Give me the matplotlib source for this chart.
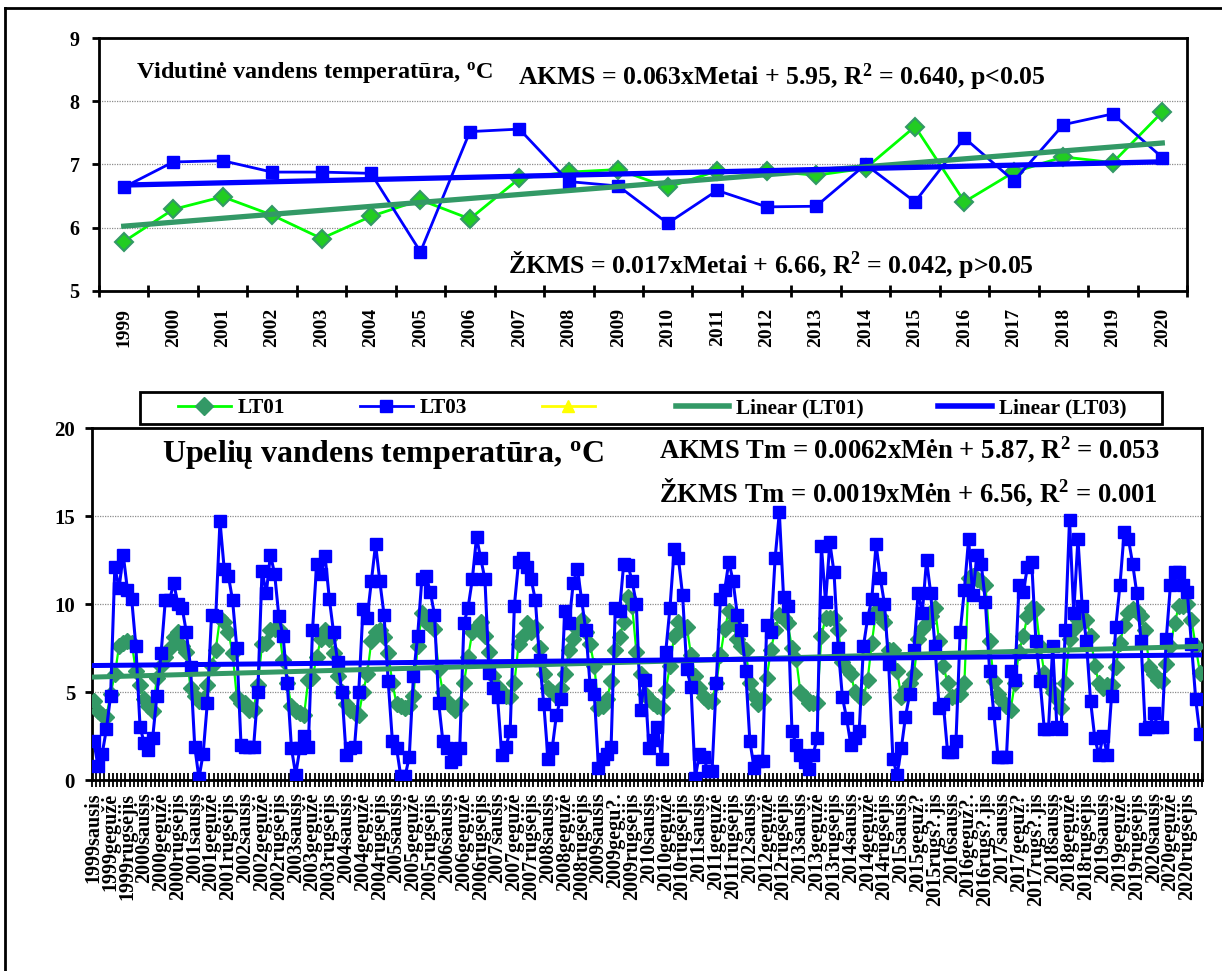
import numpy as np
import matplotlib
matplotlib.use('Agg')
import matplotlib.pyplot as plt
from matplotlib.lines import Line2D
from matplotlib.patches import Rectangle

plt.rcParams['font.family'] = ['Liberation Serif', 'DejaVu Serif']
plt.rcParams['font.weight'] = 'bold'
plt.rcParams['mathtext.fontset'] = 'custom'
plt.rcParams['mathtext.rm'] = 'Liberation Serif:bold'
plt.rcParams['mathtext.bf'] = 'Liberation Serif:bold'
plt.rcParams['mathtext.it'] = 'Liberation Serif:bold:italic'

# annual means
years = list(range(1999, 2021))
lt01_year = [5.78, 6.29, 6.49, 6.20, 5.83, 6.18, 6.44, 6.14, 6.78, 6.88, 6.92,
             6.64, 6.90, 6.90, 6.83, 6.94, 7.60, 6.41, 6.88, 7.12, 7.03, 7.83]
lt03_year = [6.64, 7.04, 7.06, 6.88, 6.88, 6.86, 5.62, 7.52, 7.56, 6.73, 6.66,
             6.07, 6.59, 6.33, 6.34, 7.00, 6.41, 7.42, 6.74, 7.63, 7.80, 7.11]

# monthly values, one row per year (Jan..Dec)
lt01_month = [
    4.5, 3.9, 3.7, 3.6, 4.9, 6.0, 7.6, 7.8, 7.9, 7.8, 6.2, 5.4,
    4.6, 4.2, 3.9, 5.8, 6.5, 7.0, 7.5, 8.1, 8.4, 7.6, 7.3, 5.2,
    4.8, 4.5, 4.6, 5.4, 6.5, 7.4, 9.2, 9.0, 8.4, 7.2, 4.7, 4.4,
    4.4, 4.0, 4.0, 5.4, 7.7, 7.8, 8.5, 8.6, 8.6, 6.8, 5.5, 4.2,
    3.9, 3.8, 3.7, 5.7, 5.8, 7.0, 8.0, 8.5, 8.0, 7.2, 5.9, 5.0,
    4.3, 4.0, 3.8, 3.7, 5.0, 6.0, 7.9, 8.4, 8.5, 8.1, 7.2, 5.5,
    4.3, 4.2, 4.1, 4.2, 4.8, 7.6, 9.5, 9.0, 8.8, 8.6, 6.3, 5.0,
    4.5, 4.2, 4.0, 4.3, 5.5, 7.0, 8.4, 8.7, 9.0, 8.2, 7.3, 5.9,
    5.3, 5.0, 4.8, 4.7, 5.5, 7.7, 8.2, 8.9, 8.4, 8.7, 7.5, 6.0,
    5.2, 5.0, 4.8, 5.2, 6.0, 7.4, 8.0, 8.6, 9.1, 8.4, 7.7, 6.5,
    4.1, 4.2, 4.6, 5.6, 7.4, 8.1, 9.0, 10.4, 9.9, 7.3, 6.0, 4.9,
    4.6, 4.4, 4.2, 4.1, 5.1, 6.5, 8.2, 9.0, 8.6, 8.7, 7.1, 5.9,
    5.2, 4.7, 4.5, 4.5, 5.5, 7.1, 8.6, 9.6, 8.9, 8.0, 7.6, 7.4,
    5.5, 4.8, 4.3, 4.6, 5.8, 7.4, 8.5, 9.4, 9.2, 8.9, 7.5, 6.9,
    5.0, 4.7, 4.4, 4.4, 4.4, 8.2, 9.2, 9.2, 9.2, 8.5, 6.7, 6.3,
    6.0, 5.0, 4.8, 4.7, 5.7, 7.8, 9.6, 9.3, 9.0, 7.4, 7.4, 6.2,
    4.7, 5.1, 5.5, 6.0, 8.0, 8.6, 8.9, 9.3, 9.8, 7.9, 6.5, 5.5,
    4.7, 4.8, 4.9, 5.5, 11.5, 11.6, 11.4, 11.3, 11.1, 7.9, 5.6, 4.9,
    4.5, 4.2, 4.0, 5.5, 7.3, 8.2, 9.3, 9.8, 9.7, 7.6, 6.1, 5.5,
    5.0, 4.6, 4.1, 5.5, 8.0, 8.6, 9.1, 9.1, 9.1, 8.2, 6.5, 5.5,
    5.2, 5.4, 5.4, 6.4, 7.8, 8.8, 9.5, 9.7, 9.6, 9.3, 8.5, 6.4,
    6.0, 5.7, 5.6, 6.6, 7.6, 8.9, 9.9, 9.9, 10.0, 9.1, 7.6, 6.1,
]
lt03_month = [
    2.2, 0.8, 1.5, 2.9, 4.8, 12.1, 10.9, 12.8, 10.8, 10.3, 7.6, 3.0,
    2.1, 1.7, 2.4, 4.8, 7.2, 10.2, 10.2, 11.2, 10.0, 9.8, 8.4, 6.4,
    1.9, 0.1, 1.5, 4.4, 9.4, 9.3, 14.7, 12.0, 11.6, 10.2, 7.5, 2.0,
    1.9, 1.9, 1.9, 5.0, 11.9, 10.6, 12.8, 11.7, 9.3, 8.2, 5.5, 1.8,
    0.3, 1.8, 2.5, 1.9, 8.5, 12.3, 11.7, 12.7, 10.3, 8.4, 6.7, 5.0,
    1.4, 1.8, 1.9, 5.0, 9.7, 9.2, 11.3, 13.4, 11.3, 9.4, 5.6, 2.2,
    1.8, 0.2, 0.2, 1.3, 5.9, 8.2, 11.4, 11.6, 10.7, 9.4, 4.4, 2.2,
    1.8, 1.0, 1.2, 1.8, 8.9, 9.8, 11.4, 13.8, 12.6, 11.4, 6.1, 5.2,
    4.7, 1.4, 1.9, 2.8, 9.9, 12.4, 12.6, 12.1, 11.4, 10.2, 6.8, 4.3,
    1.2, 1.8, 3.7, 4.6, 9.6, 8.9, 11.2, 12.0, 10.2, 8.5, 5.4, 4.9,
    0.7, 1.2, 1.5, 1.9, 9.8, 9.6, 12.3, 12.2, 11.3, 10.0, 4.0, 5.7,
    1.8, 2.3, 3.0, 1.2, 7.3, 9.8, 13.1, 12.6, 10.5, 6.3, 5.3, 0.1,
    1.5, 1.3, 0.5, 0.5, 5.5, 10.3, 10.8, 12.4, 11.3, 9.4, 8.5, 6.2,
    2.2, 0.7, 1.1, 1.1, 8.8, 8.4, 12.6, 15.2, 10.4, 9.9, 2.8, 2.0,
    1.4, 1.0, 0.6, 1.4, 2.4, 13.3, 10.1, 13.5, 11.8, 7.5, 4.7, 3.5,
    2.0, 2.4, 2.8, 7.6, 9.2, 10.3, 13.4, 11.5, 10.0, 6.6, 1.2, 0.3,
    1.8, 3.6, 4.9, 7.4, 10.6, 9.5, 12.5, 10.6, 7.6, 4.1, 4.3, 1.6,
    1.6, 2.2, 8.4, 10.8, 13.7, 10.5, 12.8, 12.3, 10.1, 6.2, 3.8, 1.3,
    1.3, 1.3, 6.2, 5.7, 11.1, 10.7, 12.1, 12.4, 7.9, 5.6, 2.9, 2.9,
    7.6, 3.0, 2.9, 8.5, 14.8, 9.5, 13.7, 9.9, 7.9, 4.5, 2.4, 1.4,
    2.5, 1.4, 4.8, 8.7, 11.1, 14.1, 13.7, 12.3, 10.6, 7.9, 2.9, 3.0,
    3.8, 3.0, 3.0, 8.0, 11.1, 11.8, 11.8, 11.1, 10.7, 7.7, 4.6, 2.6,
]

month_names = ['sausis', 'gegužė', 'rugsėjis']
odd_labels = {
    '2009gegužė': '2009gegu?.',
    '2015gegužė': '2015geguž?', '2015rugsėjis': '2015rugs?.jis',
    '2016gegužė': '2016geguž?.', '2016rugsėjis': '2016rugs?.jis',
    '2017gegužė': '2017geguž?', '2017rugsėjis': '2017rugs?.jis',
}
month_labels = []
for yr in years:
    for m in month_names:
        month_labels.append(odd_labels.get(f'{yr}{m}', f'{yr}{m}'))

W, H = 1222, 971


def fx(x):
    return x / W


def fy(y):
    return 1 - y / H


fig = plt.figure(figsize=(W / 100, H / 100), dpi=100)

# outer frame (cut by the image edge on the right and bottom)
fig.add_artist(Line2D([fx(5), fx(5)], [fy(8), 0], color='k', lw=2))
fig.add_artist(Line2D([fx(5), 1], [fy(8), fy(8)], color='k', lw=2))

grid_kw = dict(color='#8c8c8c', linestyle=(0, (1, 1)), linewidth=0.9)

# ---------- top chart: annual means ----------
ax1 = fig.add_axes([fx(99), fy(291), fx(1187) - fx(99), fy(38) - fy(291)])
xa = np.arange(len(years))
ax1.plot(xa, lt01_year, color='#00FF00', lw=2, marker='D', ms=9,
         mfc='#22CC22', mec='#339966', mew=1.5, zorder=3)
ax1.plot(xa, lt03_year, color='#0000FF', lw=2, marker='s', ms=9,
         mfc='#0000FF', mec='#0000FF', zorder=4)
k, b = np.polyfit(xa + 1, lt01_year, 1)
ax1.plot(xa, k * (xa + 1) + b, color='#339966', lw=3.8, zorder=5)
k, b = np.polyfit(xa + 1, lt03_year, 1)
ax1.plot(xa, k * (xa + 1) + b, color='#0000FF', lw=3.8, zorder=5)

ax1.set_xlim(-0.5, len(years) - 0.5)
ax1.set_ylim(5, 9)
ax1.set_yticks([5, 6, 7, 8, 9])
ax1.yaxis.grid(True, **grid_kw)
ax1.set_axisbelow(True)
ax1.set_xticks(np.arange(-0.5, len(years), 1))
ax1.set_xticks(xa, minor=True)
ax1.set_xticklabels([str(y) for y in years], minor=True, rotation=90, fontsize=14)
ax1.tick_params(axis='x', which='major', direction='inout', length=9, width=2,
                labelbottom=False)
ax1.tick_params(axis='x', which='minor', length=0, pad=12)
ax1.tick_params(axis='y', direction='out', length=5, width=2, pad=9, labelsize=14.5)
for s in ax1.spines.values():
    s.set_linewidth(2)

fig.text(fx(136), fy(78), 'Vidutinė vandens temperatūra, $^{\\mathrm{o}}$C',
         fontsize=17.5, va='baseline')
fig.text(fx(518), fy(85), 'AKMS = 0.063xMetai + 5.95, R$^{\\mathrm{2}}$ = 0.640, p<0.05',
         fontsize=18.5, va='baseline')
fig.text(fx(508), fy(273), 'ŽKMS = 0.017xMetai + 6.66, R$^{\\mathrm{2}}$ = 0.042, p>0.05',
         fontsize=18.5, va='baseline')

# ---------- bottom chart: monthly values ----------
ax2 = fig.add_axes([fx(91.7), fy(780), fx(1202) - fx(91.7), fy(428) - fy(780)])
xm = np.arange(len(lt01_month))
ax2.plot(xm, lt01_month, color='#00FF00', lw=1.6, marker='D', ms=8.5,
         mfc='#339966', mec='#339966', zorder=3)
ax2.plot(xm, lt03_month, color='#0000FF', lw=2.2, marker='s', ms=8.5,
         mfc='#0000FF', mec='#0000FF', zorder=4)
k, b = np.polyfit(xm + 1, lt01_month, 1)
ax2.plot(xm, k * (xm + 1) + b, color='#339966', lw=3.6, zorder=5)
k, b = np.polyfit(xm + 1, lt03_month, 1)
ax2.plot(xm, k * (xm + 1) + b, color='#0000FF', lw=3.6, zorder=5)

ax2.set_xlim(-0.5, len(xm) - 0.5)
ax2.set_ylim(0, 20)
ax2.set_yticks([0, 5, 10, 15, 20])
ax2.yaxis.grid(True, **grid_kw)
ax2.set_axisbelow(True)
ax2.set_xticks(np.arange(-0.5, len(xm), 1))
ax2.set_xticks(np.arange(0, len(xm), 4), minor=True)
ax2.set_xticklabels(month_labels, minor=True, rotation=90, fontsize=14.5)
ax2.tick_params(axis='x', which='major', direction='inout', length=9.5, width=1.3,
                labelbottom=False)
ax2.tick_params(axis='x', which='minor', length=0, pad=9)
ax2.tick_params(axis='y', direction='out', length=5, width=2, pad=7, labelsize=15)
for s in ax2.spines.values():
    s.set_linewidth(2)

fig.text(fx(162), fy(462), 'Upelių vandens temperatūra, $^{\\mathrm{o}}$C',
         fontsize=23, va='baseline')
fig.text(fx(659), fy(458), 'AKMS Tm = 0.0062xMėn + 5.87, R$^{\\mathrm{2}}$ = 0.053',
         fontsize=19.2, va='baseline')
fig.text(fx(659), fy(502), 'ŽKMS Tm = 0.0019xMėn + 6.56, R$^{\\mathrm{2}}$ = 0.001',
         fontsize=19.2, va='baseline')

# ---------- legend ----------
handles = [
    Line2D([], [], color='#00FF00', lw=2, marker='D', ms=9, mfc='#339966', mec='#339966'),
    Line2D([], [], color='#0000FF', lw=2, marker='s', ms=9, mfc='#0000FF', mec='#0000FF'),
    Line2D([], [], color='#FFFF00', lw=2, marker='^', ms=9, mfc='#FFFF00', mec='#FFFF00'),
    Line2D([], [], color='#339966', lw=4),
    Line2D([], [], color='#0000FF', lw=4),
]
fig.legend(handles, ['LT01', 'LT03', '', 'Linear (LT01)', 'Linear (LT03)'],
           ncol=5, loc='center', bbox_to_anchor=(fx(652), fy(408)), frameon=False,
           fontsize=15.3, handlelength=2.5, handletextpad=0.33, columnspacing=3.5)
fig.add_artist(Rectangle((fx(140), fy(424)), fx(1162) - fx(140), fy(392) - fy(424),
                         transform=fig.transFigure, fill=False, ec='k', lw=2))

fig.savefig('out.png', dpi=100)
